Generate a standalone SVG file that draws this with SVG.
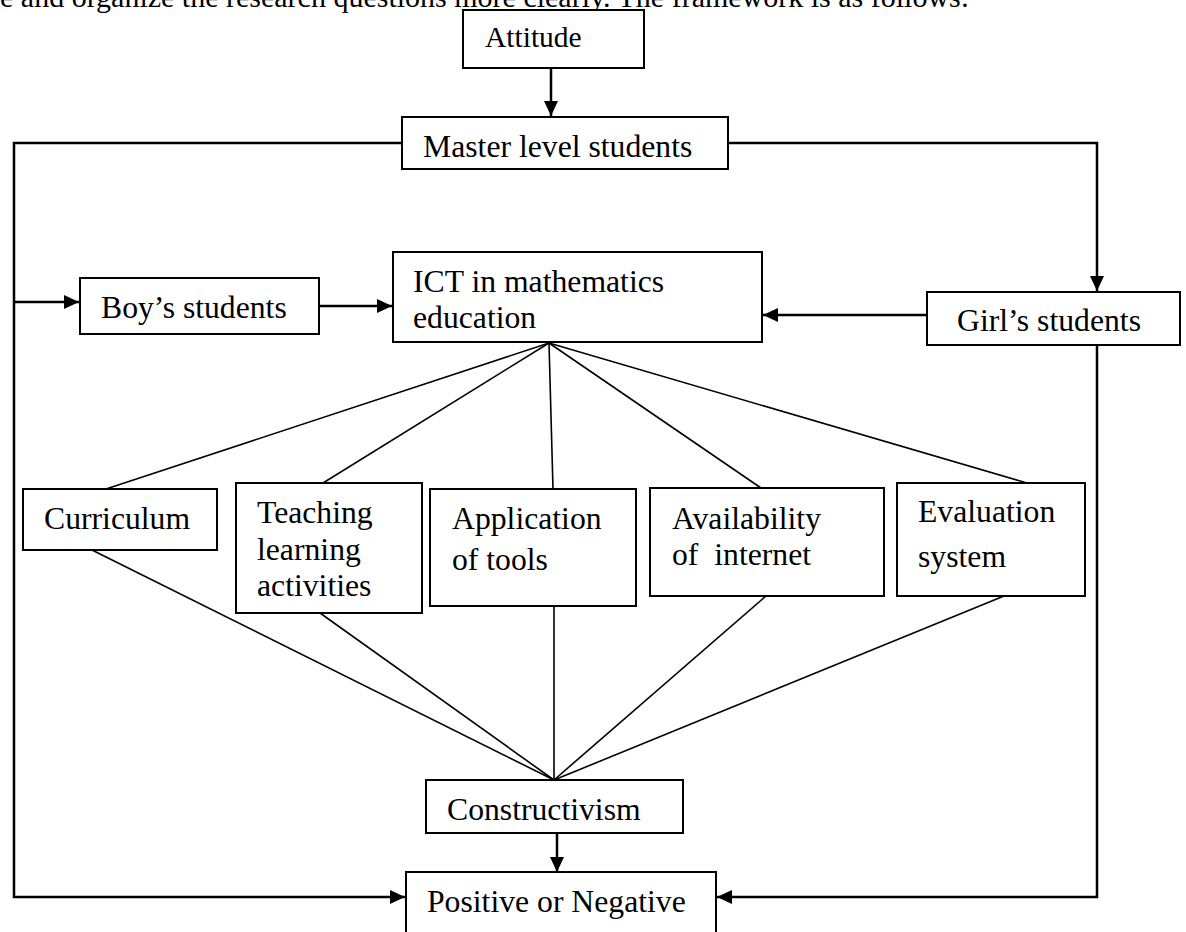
<svg xmlns="http://www.w3.org/2000/svg" width="1186" height="932" viewBox="0 0 1186 932">
<style>
.box{fill:#fff;stroke:#000;stroke-width:2}
.t{font-family:"Liberation Serif","Times New Roman",serif;font-size:31.7px;fill:#000}
.arr{fill:none;stroke:#000;stroke-width:2.5}
.ln{fill:none;stroke:#000;stroke-width:1.6}
</style>
<defs>
<marker id="ah" markerUnits="userSpaceOnUse" markerWidth="16" markerHeight="14" refX="15" refY="7" orient="auto">
<path d="M0,0 L15,7 L0,14 z" fill="#000"/>
</marker>
</defs>
<rect width="1186" height="932" fill="#fff"/>
<text class="t" x="0" y="7" style="font-size:30px">e and organize the research questions more clearly. The framework is as follows:</text>
<g id="connectors">
<line class="arr" x1="551" y1="68" x2="551" y2="116" marker-end="url(#ah)"/>
<polyline class="arr" points="402,143 14,143 14,897 405,897" marker-end="url(#ah)"/>
<line class="arr" x1="14" y1="302" x2="79" y2="302" marker-end="url(#ah)"/>
<polyline class="arr" points="728,143 1097,143 1097,291" marker-end="url(#ah)"/>
<line class="arr" x1="319" y1="306" x2="392" y2="306" marker-end="url(#ah)"/>
<line class="arr" x1="927" y1="315" x2="763" y2="315" marker-end="url(#ah)"/>
<polyline class="arr" points="1097,345 1097,897 717,897" marker-end="url(#ah)"/>
<line class="arr" x1="557" y1="833" x2="557" y2="872" marker-end="url(#ah)"/>
<line class="ln" x1="549" y1="343" x2="106" y2="489"/>
<line class="ln" x1="549" y1="343" x2="323" y2="483"/>
<line class="ln" x1="549" y1="343" x2="553" y2="489"/>
<line class="ln" x1="549" y1="343" x2="761" y2="488"/>
<line class="ln" x1="549" y1="343" x2="1027" y2="483"/>
<line class="ln" x1="92" y1="550" x2="554" y2="780"/>
<line class="ln" x1="320" y1="613" x2="554" y2="780"/>
<line class="ln" x1="554" y1="606" x2="554" y2="780"/>
<line class="ln" x1="766" y1="596" x2="554" y2="780"/>
<line class="ln" x1="1004" y1="596" x2="554" y2="780"/>
</g>
<g id="attitude"><rect class="box" x="463" y="10" width="181" height="58"/><text class="t" x="485" y="47" style="font-size:29.5px">Attitude</text></g>
<g id="master"><rect class="box" x="402" y="117" width="326" height="52"/><text class="t" x="423" y="157">Master level students</text></g>
<g id="boys"><rect class="box" x="80" y="278" width="239" height="56"/><text class="t" x="101" y="318">Boy’s students</text></g>
<g id="ict"><rect class="box" x="393" y="252" width="369" height="90"/><text class="t" x="413" y="292">ICT in mathematics</text><text class="t" x="413" y="328">education</text></g>
<g id="girls"><rect class="box" x="927" y="292" width="253" height="53"/><text class="t" x="957" y="331">Girl’s students</text></g>
<g id="curriculum"><rect class="box" x="23" y="489" width="194" height="61"/><text class="t" x="44" y="529">Curriculum</text></g>
<g id="teaching"><rect class="box" x="236" y="483" width="186" height="130"/><text class="t" x="257" y="523">Teaching</text><text class="t" x="257" y="560">learning</text><text class="t" x="257" y="596">activities</text></g>
<g id="application"><rect class="box" x="430" y="489" width="206" height="117"/><text class="t" x="452" y="529">Application</text><text class="t" x="452" y="570">of tools</text></g>
<g id="availability"><rect class="box" x="650" y="488" width="234" height="108"/><text class="t" x="672" y="529">Availability</text><text class="t" x="672" y="565" xml:space="preserve">of  internet</text></g>
<g id="evaluation"><rect class="box" x="897" y="483" width="188" height="113"/><text class="t" x="918" y="522">Evaluation</text><text class="t" x="918" y="567">system</text></g>
<g id="constructivism"><rect class="box" x="426" y="780" width="257" height="53"/><text class="t" x="447" y="820">Constructivism</text></g>
<g id="positive"><rect class="box" x="406" y="872" width="310" height="70"/><text class="t" x="427" y="912">Positive or Negative</text></g>
</svg>
